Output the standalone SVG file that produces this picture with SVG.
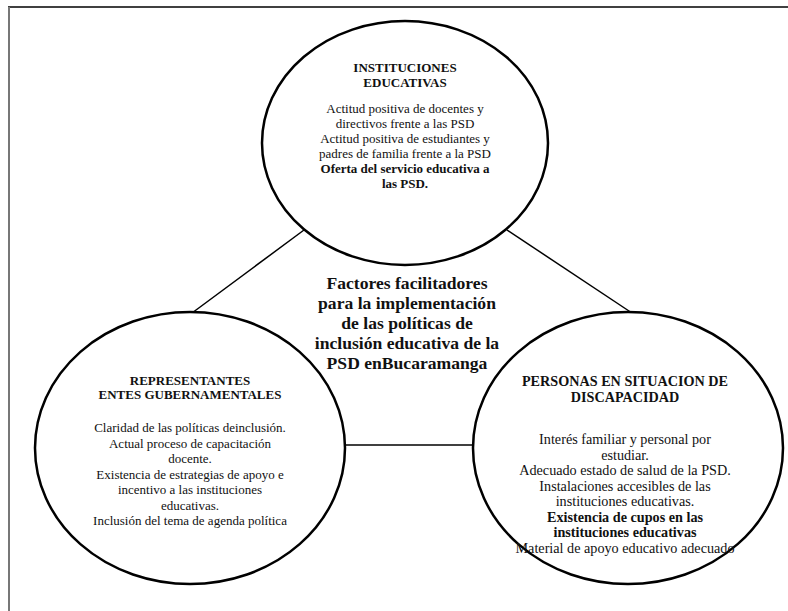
<svg xmlns="http://www.w3.org/2000/svg" width="788" height="611" viewBox="0 0 788 611">
<style>
text{font-family:"Liberation Serif","Times New Roman",serif;fill:#111;text-anchor:middle}
.t{font-size:13px;font-weight:bold}
.b{font-size:13px}
.bb{font-size:13px;font-weight:bold}
.r{font-size:14.2px}
.rb{font-size:14.2px;font-weight:bold}
.c{font-size:17.6px;font-weight:bold}
.e{fill:#fff;stroke:#000;stroke-width:2.5}
.l{stroke:#000;stroke-width:1.5;fill:none}
</style>
<rect x="0" y="0" width="788" height="611" fill="#fff"/>
<g id="frame">
<line x1="8" y1="7" x2="788" y2="7" stroke="#000" stroke-width="1.5"/>
<line x1="9" y1="7" x2="9" y2="611" stroke="#777" stroke-width="2"/>
</g>
<g id="connectors">
<line class="l" x1="304" y1="230" x2="192" y2="313"/>
<line class="l" x1="507" y1="230" x2="632" y2="313"/>
<line class="l" x1="345" y1="445" x2="472" y2="445"/>
</g>
<g id="instituciones">
<ellipse class="e" cx="405" cy="143" rx="143" ry="122"/>
<text class="t" x="405" y="72">INSTITUCIONES</text>
<text class="t" x="405" y="87">EDUCATIVAS</text>
<text class="b" x="405" y="113">Actitud positiva de docentes y</text>
<text class="b" x="405" y="128">directivos frente a las PSD</text>
<text class="b" x="405" y="143">Actitud positiva de estudiantes y</text>
<text class="b" x="405" y="158">padres de familia frente a la PSD</text>
<text class="bb" x="405" y="173">Oferta del servicio educativa a</text>
<text class="bb" x="405" y="188">las PSD.</text>
</g>
<g id="representantes">
<ellipse class="e" cx="190" cy="448" rx="155" ry="136"/>
<text class="t" x="190" y="385">REPRESENTANTES</text>
<text class="t" x="190" y="399">ENTES GUBERNAMENTALES</text>
<text class="b" x="190" y="432">Claridad de las políticas deinclusión.</text>
<text class="b" x="190" y="447.5">Actual proceso de capacitación</text>
<text class="b" x="190" y="463">docente.</text>
<text class="b" x="190" y="478.5">Existencia de estrategias de apoyo e</text>
<text class="b" x="190" y="494">incentivo a las instituciones</text>
<text class="b" x="190" y="509.5">educativas.</text>
<text class="b" x="190" y="525">Inclusión del tema de agenda política</text>
</g>
<g id="personas">
<ellipse class="e" cx="628" cy="448" rx="155" ry="136"/>
<text class="rb" x="625" y="386">PERSONAS EN SITUACION DE</text>
<text class="rb" x="625" y="402">DISCAPACIDAD</text>
<text class="r" x="625" y="444">Interés familiar y personal por</text>
<text class="r" x="625" y="459.5">estudiar.</text>
<text class="r" x="625" y="475">Adecuado estado de salud de la PSD.</text>
<text class="r" x="625" y="490.5">Instalaciones accesibles de las</text>
<text class="r" x="625" y="506">instituciones educativas.</text>
<text class="rb" x="625" y="521.5">Existencia de cupos en las</text>
<text class="rb" x="625" y="537">instituciones educativas</text>
<text class="r" x="625" y="552.5">Material de apoyo educativo adecuado</text>
</g>
<g id="titulo">
<text class="c" x="407" y="289">Factores facilitadores</text>
<text class="c" x="407" y="309">para la implementación</text>
<text class="c" x="407" y="329">de las políticas de</text>
<text class="c" x="407" y="349">inclusión educativa de la</text>
<text class="c" x="407" y="369">PSD enBucaramanga</text>
</g>
</svg>
